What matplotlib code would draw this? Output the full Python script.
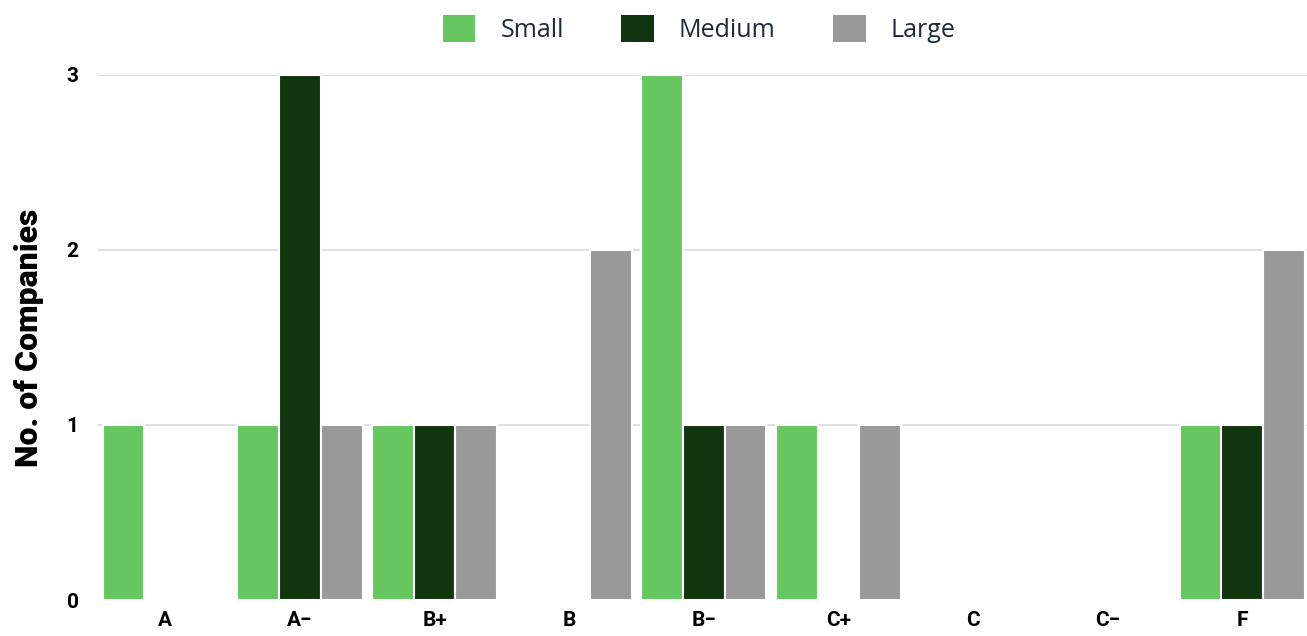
import numpy as np
import matplotlib.pyplot as plt
from matplotlib.patches import Patch

# grades and counts per company size
grades = ["A", "A\u2212", "B+", "B", "B\u2212", "C+", "C", "C\u2212", "F"]
small = [1, 1, 1, 0, 3, 1, 0, 0, 1]
medium = [0, 3, 1, 0, 1, 0, 0, 0, 1]
large = [0, 1, 1, 2, 1, 1, 0, 0, 2]
series = ["Small", "Medium", "Large"]
colors = ["#66c761", "#10350f", "#999999"]

fig = plt.figure(figsize=(13.07, 6.36), dpi=100)
ax = fig.add_axes([0.075, 0.0566, 0.927, 0.8255])

x = np.arange(len(grades))
w = 0.31
for i, (vals, c) in enumerate(zip([small, medium, large], colors)):
    ax.bar(x + (i - 1) * w, vals, width=w, color=c, edgecolor="white",
           linewidth=1.5, zorder=3)

# gridlines at 1..3 only
for yv in [1, 2, 3]:
    ax.axhline(yv, color="#e0e0e0", linewidth=1.5, zorder=0)

ax.set_xlim(-0.5, len(grades) - 0.5)
ax.set_ylim(0, 3)
ax.set_yticks([0, 1, 2, 3])
ax.set_xticks(x)
ax.set_xticklabels(grades)
for lab in ax.get_xticklabels() + ax.get_yticklabels():
    lab.set_fontfamily("Roboto")
    lab.set_fontweight("bold")
    lab.set_fontsize(15)
ax.tick_params(length=0, pad=8)
ax.tick_params(axis="y", pad=14)
for s in ax.spines.values():
    s.set_visible(False)

ax.set_ylabel("No. of Companies", fontfamily="Roboto", fontweight="heavy",
              fontsize=23)
ax.yaxis.set_label_coords(-0.045, 0.5)

handles = [Patch(facecolor=c, edgecolor="none") for c in colors]
leg = fig.legend(handles, series, loc="upper center", bbox_to_anchor=(0.535, 1.012),
                 ncol=3, frameon=False, handlelength=1.3, handleheight=1.3,
                 columnspacing=2.3, handletextpad=1.0,
                 prop={"family": "Open Sans", "size": 18})
for t in leg.get_texts():
    t.set_color("#1b2b3a")

fig.savefig("out.png", dpi=100)
